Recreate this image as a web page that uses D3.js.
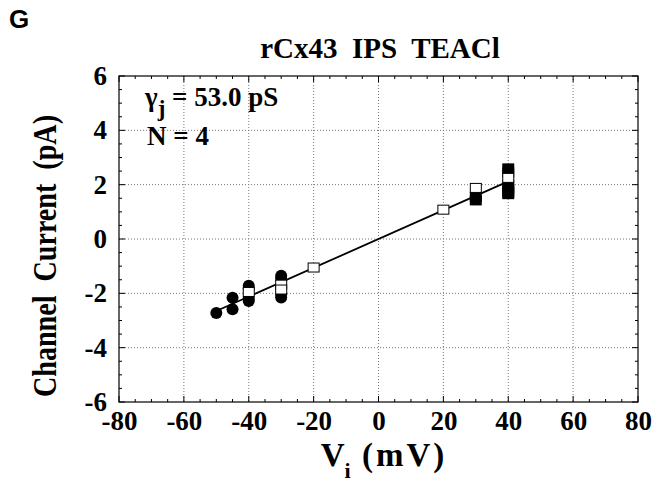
<!DOCTYPE html>
<html><head><meta charset="utf-8">
<script src="https://cdn.jsdelivr.net/npm/d3@7"></script>
<style>body{margin:0;background:#fff}</style>
</head><body><svg id="c" width="652" height="486"></svg>
<script>
const xTicks = [-80,-60,-40,-20,0,20,40,60,80];
const yTicks = [-6,-4,-2,0,2,4,6];
// filled circles (mV, pA)
const circleV = [-50,-45,-45,-40,-40,-40,-40,-30,-30,-30,-30];
const circleI = [-2.72,-2.16,-2.59,-1.72,-1.82,-2.18,-2.28,-1.35,-1.45,-2.05,-2.15];
// open squares
const openV = [-40,-30,-30,-20,20,30,40];
const openI = [-1.95,-1.68,-1.86,-1.05,1.08,1.88,2.25];
// filled squares
const fillV = [30,30,40,40,40,40,40,40];
const fillI = [1.55,1.42,2.6,2.45,2.0,1.85,1.72,1.65];
const fitV = [-50,40];
const slope = 0.053;

const svg = d3.select("#c");
const L=119,R=638,T=76,B=402;
const x = d3.scaleLinear().domain([-80,80]).range([L,R]);
const y = d3.scaleLinear().domain([-6,6]).range([B,T]);
const fmt = d => String(d);

// grid
const g = svg.append("g");
g.selectAll(".vg").data(xTicks.slice(1,-1)).enter().append("line")
 .attr("x1",d=>x(d)).attr("x2",d=>x(d)).attr("y1",T).attr("y2",B)
 .attr("stroke","#777").attr("stroke-width",1).attr("stroke-dasharray","1,2");
g.selectAll(".hg").data(yTicks.slice(1,-1)).enter().append("line")
 .attr("y1",d=>y(d)).attr("y2",d=>y(d)).attr("x1",L).attr("x2",R)
 .attr("stroke","#777").attr("stroke-width",1).attr("stroke-dasharray","1,2");

// frame
svg.append("rect").attr("x",L).attr("y",T).attr("width",R-L).attr("height",B-T)
 .attr("fill","none").attr("stroke","#000").attr("stroke-width",1.2);

// ticks inward on all sides
const xMinor = d3.range(-80,80.1,5), yMinor = d3.range(-6,6.01,0.5);
function tickLen(v,maj){return maj.includes(v)?6:3;}
const tk = svg.append("g").attr("stroke","#000").attr("stroke-width",1);
xMinor.forEach(v=>{const l=tickLen(v,xTicks);
 tk.append("line").attr("x1",x(v)).attr("x2",x(v)).attr("y1",B).attr("y2",B-l);
 tk.append("line").attr("x1",x(v)).attr("x2",x(v)).attr("y1",T).attr("y2",T+l);});
yMinor.forEach(v=>{const l=tickLen(Math.round(v*10)/10,yTicks);
 tk.append("line").attr("y1",y(v)).attr("y2",y(v)).attr("x1",L).attr("x2",L+l);
 tk.append("line").attr("y1",y(v)).attr("y2",y(v)).attr("x1",R).attr("x2",R-l);});

// axes labels via d3 axis (text only)
const xa = svg.append("g").attr("transform",`translate(0,${B})`)
 .call(d3.axisBottom(x).tickValues(xTicks).tickSize(0).tickPadding(9).tickFormat(fmt));
const ya = svg.append("g").attr("transform",`translate(${L},0)`)
 .call(d3.axisLeft(y).tickValues(yTicks).tickSize(0).tickPadding(12).tickFormat(fmt));
[xa,ya].forEach(a=>{a.select(".domain").remove();
 a.selectAll("text").attr("font-family","Liberation Serif").attr("font-weight","bold")
  .attr("font-size",27).attr("fill","#000");});

// fit line
svg.append("line").attr("x1",x(fitV[0])).attr("y1",y(slope*fitV[0]))
 .attr("x2",x(fitV[1])).attr("y2",y(slope*fitV[1])).attr("stroke","#000").attr("stroke-width",1.8);

// markers
svg.append("g").selectAll("circle").data(circleV.map((v,i)=>[v,circleI[i]])).enter()
 .append("circle").attr("cx",d=>x(d[0])).attr("cy",d=>y(d[1])).attr("r",6).attr("fill","#000");
svg.append("g").selectAll("rect").data(fillV.map((v,i)=>[v,fillI[i]])).enter()
 .append("rect").attr("x",d=>x(d[0])-6).attr("y",d=>y(d[1])-5).attr("width",12).attr("height",10).attr("fill","#000");
svg.append("g").selectAll("rect").data(openV.map((v,i)=>[v,openI[i]])).enter()
 .append("rect").attr("x",d=>x(d[0])-5.5).attr("y",d=>y(d[1])-4.5).attr("width",11).attr("height",9)
 .attr("fill","#fff").attr("stroke","#000").attr("stroke-width",1);

// texts
svg.append("text").attr("x",9).attr("y",28).text("G").attr("font-family","Liberation Sans")
 .attr("font-weight","bold").attr("font-size",26);
svg.append("text").attr("x",380).attr("y",58).attr("text-anchor","middle")
 .attr("font-family","Liberation Serif").attr("font-weight","bold").attr("font-size",29)
 .attr("xml:space","preserve").text("rCx43  IPS  TEACl");
const ann = svg.append("text").attr("font-family","Liberation Serif").attr("font-weight","bold").attr("font-size",27);
ann.append("tspan").attr("x",145).attr("y",106).text("γ");
ann.append("tspan").attr("dy",10).attr("font-size",23).text("j");
ann.append("tspan").attr("dy",-10).text(" = 53.0 pS");
svg.append("text").attr("x",147).attr("y",145).attr("font-family","Liberation Serif")
 .attr("font-weight","bold").attr("font-size",27).text("N = 4");
svg.append("text").attr("transform","translate(56,256) rotate(-90)").attr("text-anchor","middle")
 .attr("font-family","Liberation Serif").attr("font-weight","bold").attr("font-size",33)
 .attr("textLength",282).attr("lengthAdjust","spacingAndGlyphs")
 .attr("xml:space","preserve").text("Channel  Current  (pA)");
const xt = svg.append("text").attr("x",384).attr("y",466).attr("text-anchor","middle")
 .attr("font-family","Liberation Serif").attr("font-weight","bold").attr("font-size",33);
xt.append("tspan").text("V");
xt.append("tspan").attr("dy",12).attr("font-size",22).text("i");
xt.append("tspan").attr("dy",-12).attr("letter-spacing",3).attr("xml:space","preserve").text(" (mV)");
</script></body></html>
